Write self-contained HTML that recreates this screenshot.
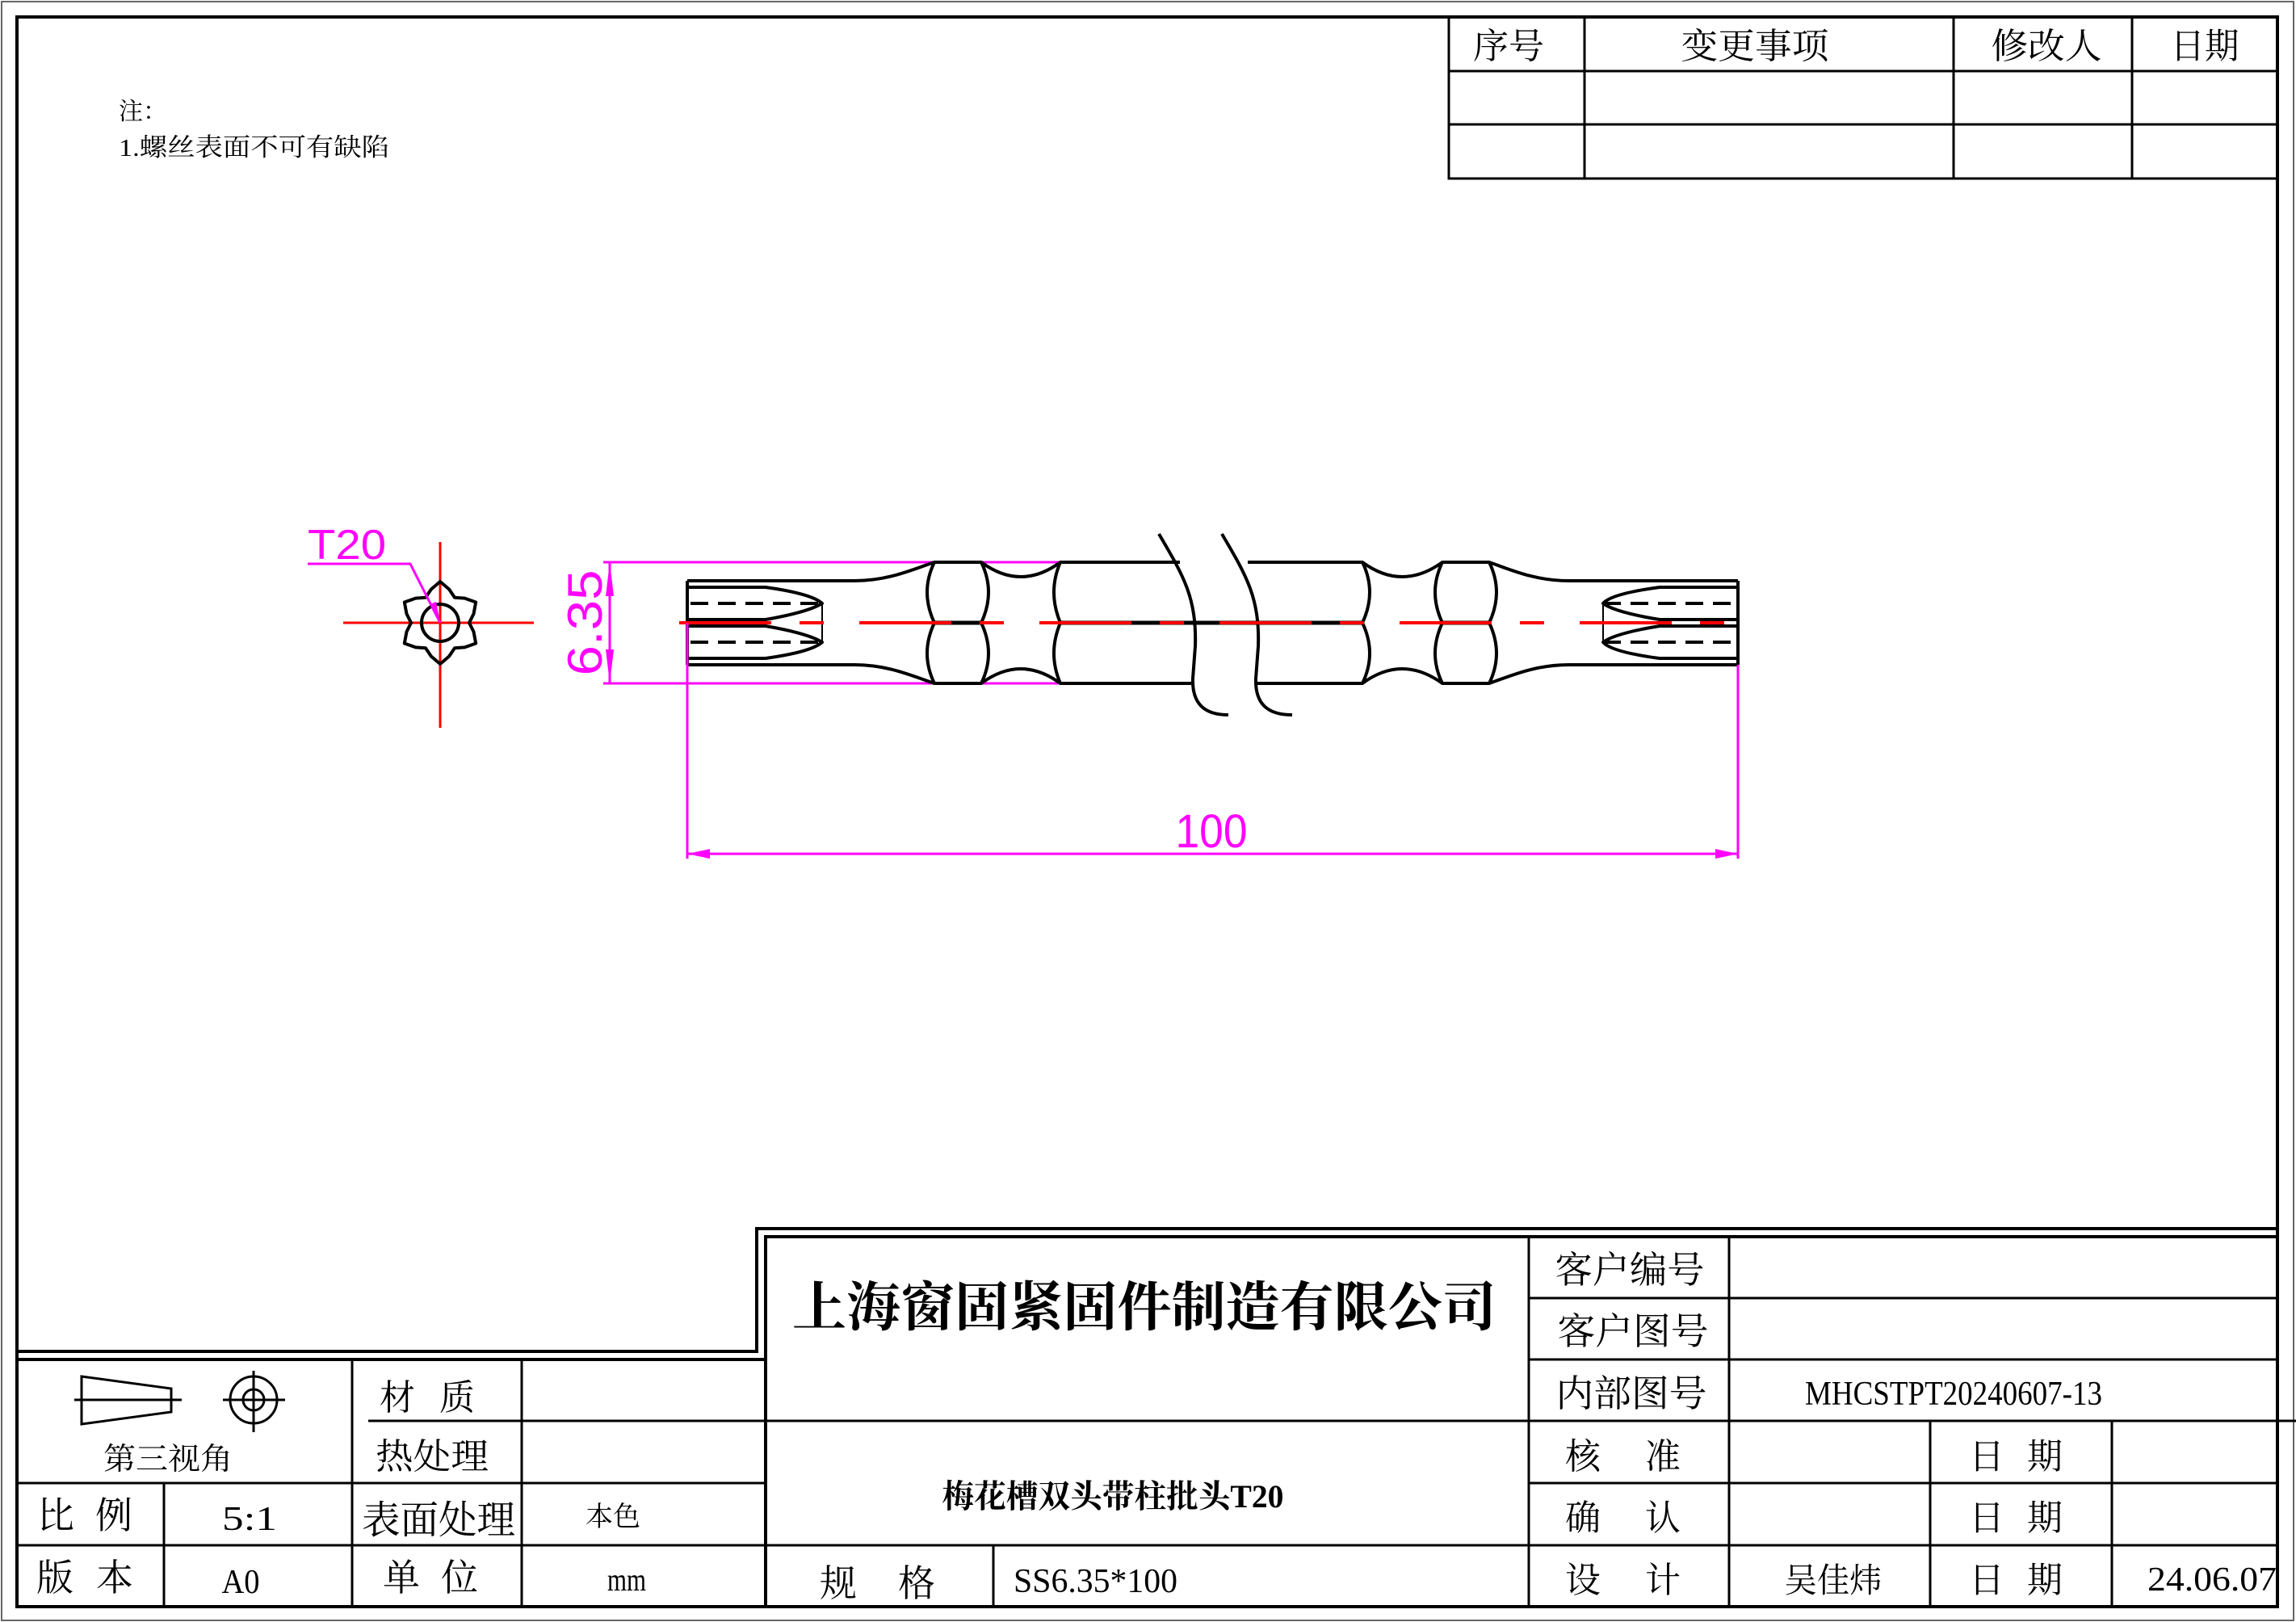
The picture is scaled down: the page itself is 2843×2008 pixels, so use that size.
<!DOCTYPE html>
<html><head><meta charset="utf-8">
<style>
html,body{margin:0;padding:0;background:#fff;}
svg{display:block;}
.cj{font-family:"Liberation Serif","Noto Serif CJK SC",serif;}
.ls{font-family:"Liberation Serif","Noto Serif CJK SC",serif;}
.mg{font-family:"Liberation Sans","DejaVu Sans",sans-serif;}
</style></head>
<body>
<svg width="2843" height="2008" viewBox="0 0 2843 2008" xmlns="http://www.w3.org/2000/svg">
<rect x="0" y="0" width="2843" height="2008" fill="#fff"/>
<!-- frames -->
<rect x="2" y="2" width="2838" height="2004" fill="none" stroke="#666" stroke-width="2"/>
<rect x="21" y="21" width="2799" height="1968" fill="none" stroke="#000" stroke-width="4"/>

<!-- notes -->
<text class="cj" x="147" y="148" font-size="30">注：</text>
<text class="cj" x="147" y="193" font-size="31" textLength="335" lengthAdjust="spacingAndGlyphs">1.螺丝表面不可有缺陷</text>

<!-- revision table -->
<g stroke="#000" stroke-width="3" fill="none">
<rect x="1794" y="21" width="1026" height="200"/>
<line x1="1794" y1="88" x2="2820" y2="88"/>
<line x1="1794" y1="154" x2="2820" y2="154"/>
<line x1="1962" y1="21" x2="1962" y2="221"/>
<line x1="2419" y1="21" x2="2419" y2="221"/>
<line x1="2640" y1="21" x2="2640" y2="221"/>
</g>
<g class="cj" font-size="44" text-anchor="middle">
<text x="1868" y="72" textLength="88" lengthAdjust="spacingAndGlyphs">序号</text>
<text x="2173" y="72" textLength="183" lengthAdjust="spacingAndGlyphs">变更事项</text>
<text x="2534" y="72" textLength="137" lengthAdjust="spacingAndGlyphs">修改人</text>
<text x="2730" y="72" textLength="85" lengthAdjust="spacingAndGlyphs">日期</text>
</g>

<!-- end view: star -->
<line x1="425" y1="771" x2="661" y2="771" stroke="#f00" stroke-width="3"/>
<line x1="545" y1="671" x2="545" y2="901" stroke="#f00" stroke-width="3"/>
<polygon points="545,720 556.1,729.5 563,739.8 575.4,740.6 589.2,745.5 586.5,759.9 581,771 586.5,782.1 589.2,796.5 575.4,801.4 563,802.2 556.1,812.5 545,822 533.9,812.5 527,802.2 514.6,801.4 500.8,796.5 503.5,782.1 509,771 503.5,759.9 500.8,745.5 514.6,740.6 527,739.8 533.9,729.5" fill="none" stroke="#000" stroke-width="4" stroke-linejoin="round"/>
<circle cx="545" cy="771" r="23" fill="none" stroke="#000" stroke-width="4"/>
<polyline points="381,698 508,698 545,771" fill="none" stroke="#f0f" stroke-width="3"/>
<polygon points="545,771 532,748 540,745" fill="#f0f"/>
<text class="mg" x="381" y="692" font-size="52" fill="#f0f" textLength="97" lengthAdjust="spacingAndGlyphs">T20</text>

<!-- dimension 6.35 -->
<g stroke="#f0f" stroke-width="3">
<line x1="747" y1="696" x2="1387" y2="696"/>
<line x1="747" y1="846" x2="1387" y2="846"/>
<line x1="755" y1="696" x2="755" y2="846"/>
</g>
<polygon points="755,696 750,738 760,738" fill="#f0f"/>
<polygon points="755,846 750,804 760,804" fill="#f0f"/>
<text class="mg" transform="translate(745,771) rotate(-90)" x="0" y="0" text-anchor="middle" font-size="60" fill="#f0f" textLength="131" lengthAdjust="spacingAndGlyphs">6.35</text>

<!-- centerline -->
<line x1="1313" y1="771" x2="1687" y2="771" stroke="#000" stroke-width="5"/>
<line x1="1157" y1="771" x2="1215" y2="771" stroke="#000" stroke-width="5"/>
<line x1="1786" y1="771" x2="1844" y2="771" stroke="#000" stroke-width="5"/>

<!-- body -->
<g fill="none" stroke="#000" stroke-width="4" stroke-linejoin="round">
<path d="M851,719 L1058,719 C1100,719 1130,705 1157,696 L1215,696 Q1264,732 1313,696 L1461,696"/>
<path d="M851,823 L1058,823 C1100,823 1130,837 1157,846 L1215,846 Q1264,810 1313,846 L1475,846"/>
<path d="M1545,696 L1687,696 Q1736,732 1786,696 L1844,696 C1870,705 1900,719 1943,719 L2152,719"/>
<path d="M1555,846 L1687,846 Q1736,810 1786,846 L1844,846 C1870,837 1900,823 1943,823 L2152,823"/>
<line x1="851" y1="719" x2="851" y2="823"/>
<line x1="2152" y1="719" x2="2152" y2="823"/>
<!-- left tip -->
<path d="M851,727 L948,727 Q1005,735 1018,747 Q1000,758 948,767 L851,767"/>
<path d="M851,815 L948,815 Q1005,807 1018,795 Q1000,784 948,775 L851,775"/>
<!-- right tip -->
<path d="M2152,727 L2055,727 Q1995,735 1985,747 Q2000,758 2055,767 L2152,767"/>
<path d="M2152,815 L2055,815 Q1995,807 1985,795 Q2000,784 2055,775 L2152,775"/>
<!-- vertical bulge curves -->
<path d="M1157,696 Q1139,733 1157,771 Q1139,809 1157,846"/>
<path d="M1215,696 Q1233,733 1215,771 Q1233,809 1215,846"/>
<path d="M1313,696 Q1297,733 1313,771 Q1297,809 1313,846"/>
<path d="M1687,696 Q1705,733 1687,771 Q1705,809 1687,846"/>
<path d="M1786,696 Q1768,733 1786,771 Q1768,809 1786,846"/>
<path d="M1844,696 Q1862,733 1844,771 Q1862,809 1844,846"/>
<!-- break lines -->
<path d="M1435,661 C1465,712 1482,740 1480,800 L1477,840 C1476,870 1490,885 1521,885"/>
<path d="M1513,661 C1543,712 1560,740 1558,800 L1555,840 C1554,870 1568,885 1600,885"/>
</g>
<g stroke="#000" stroke-width="2">
<line x1="1018" y1="747" x2="1018" y2="795"/>
<line x1="1985" y1="747" x2="1985" y2="795"/>
</g>
<g stroke="#000" stroke-width="4" stroke-dasharray="22 12">
<line x1="855" y1="747" x2="1018" y2="747"/>
<line x1="855" y1="795" x2="1018" y2="795"/>
<line x1="1985" y1="747" x2="2148" y2="747"/>
<line x1="1985" y1="795" x2="2148" y2="795"/>
</g>
<line x1="841" y1="771" x2="2163" y2="771" stroke="#f00" stroke-width="4" stroke-dasharray="114 35 30 44"/>

<!-- dimension 100 -->
<g stroke="#f0f" stroke-width="3">
<line x1="851" y1="771" x2="851" y2="1063"/>
<line x1="2152" y1="823" x2="2152" y2="1063"/>
<line x1="851" y1="1057" x2="2152" y2="1057"/>
</g>
<polygon points="851,1057 879,1051 879,1063" fill="#f0f"/>
<polygon points="2152,1057 2124,1051 2124,1063" fill="#f0f"/>
<text class="mg" x="1500" y="1049" text-anchor="middle" font-size="58" fill="#f0f" textLength="89" lengthAdjust="spacingAndGlyphs">100</text>

<!-- title block lines -->
<g stroke="#000" stroke-width="4" fill="none">
<polyline points="21,1673 937,1673 937,1521 2820,1521"/>
<polyline points="21,1683 948,1683 948,1531 2820,1531"/>
<line x1="948" y1="1531" x2="948" y2="1989"/>
</g>
<g stroke="#000" stroke-width="3">
<line x1="21" y1="1836" x2="948" y2="1836"/>
<line x1="21" y1="1913" x2="948" y2="1913"/>
<line x1="456" y1="1759" x2="948" y2="1759"/>
<line x1="436" y1="1683" x2="436" y2="1989"/>
<line x1="646" y1="1683" x2="646" y2="1989"/>
<line x1="203" y1="1836" x2="203" y2="1989"/>
<line x1="1893" y1="1531" x2="1893" y2="1989"/>
<line x1="948" y1="1759" x2="1893" y2="1759"/>
<line x1="948" y1="1913" x2="1893" y2="1913"/>
<line x1="1230" y1="1913" x2="1230" y2="1989"/>
<line x1="1893" y1="1607" x2="2820" y2="1607"/>
<line x1="1893" y1="1683" x2="2820" y2="1683"/>
<line x1="1893" y1="1759" x2="2843" y2="1759"/>
<line x1="1893" y1="1836" x2="2820" y2="1836"/>
<line x1="1893" y1="1913" x2="2820" y2="1913"/>
<line x1="2141" y1="1531" x2="2141" y2="1989"/>
<line x1="2390" y1="1759" x2="2390" y2="1989"/>
<line x1="2615" y1="1759" x2="2615" y2="1989"/>
</g>

<!-- projection symbol -->
<g stroke="#000" stroke-width="3" fill="none">
<polygon points="101,1704 212,1719 212,1748 101,1763"/>
<line x1="92" y1="1733" x2="225" y2="1733"/>
<circle cx="314" cy="1733" r="29"/>
<circle cx="314" cy="1733" r="13"/>
<line x1="276" y1="1733" x2="353" y2="1733"/>
<line x1="314" y1="1697" x2="314" y2="1773"/>
</g>

<!-- title texts -->
<g class="cj" fill="#000">
<text x="1417" y="1641" text-anchor="middle" font-size="66" font-weight="bold" textLength="872" lengthAdjust="spacingAndGlyphs">上海窗固紧固件制造有限公司</text>
<text x="1378" y="1866" text-anchor="middle" font-size="40" font-weight="bold" textLength="423" lengthAdjust="spacingAndGlyphs">梅花槽双头带柱批头T20</text>
<text x="1038" y="1976" text-anchor="middle" font-size="46">规</text>
<text x="1135" y="1976" text-anchor="middle" font-size="46">格</text>
<text x="1255" y="1971" font-size="42" textLength="203" lengthAdjust="spacingAndGlyphs">SS6.35*100</text>

<text x="2018" y="1588" text-anchor="middle" font-size="46" textLength="185" lengthAdjust="spacingAndGlyphs">客户编号</text>
<text x="2022" y="1664" text-anchor="middle" font-size="46" textLength="187" lengthAdjust="spacingAndGlyphs">客户图号</text>
<text x="2020" y="1741" text-anchor="middle" font-size="46" textLength="187" lengthAdjust="spacingAndGlyphs">内部图号</text>
<text x="2419" y="1739" text-anchor="middle" font-size="42" textLength="368" lengthAdjust="spacingAndGlyphs">MHCSTPT20240607-13</text>

<g font-size="44" text-anchor="middle">
<text x="1960" y="1818">核</text><text x="2059" y="1818">准</text>
<text x="1960" y="1894">确</text><text x="2059" y="1894">认</text>
<text x="1960" y="1971">设</text><text x="2059" y="1971">计</text>
<text x="2460" y="1818">日</text><text x="2532" y="1818">期</text>
<text x="2460" y="1894">日</text><text x="2532" y="1894">期</text>
<text x="2460" y="1971">日</text><text x="2532" y="1971">期</text>
</g>
<text x="2270" y="1971" text-anchor="middle" font-size="42" textLength="121" lengthAdjust="spacingAndGlyphs">吴佳炜</text>
<text x="2659" y="1969" font-size="42" textLength="160" lengthAdjust="spacingAndGlyphs">24.06.07</text>

<g font-size="44" text-anchor="middle">
<text x="492" y="1745">材</text><text x="566" y="1745">质</text>
</g>
<text x="535" y="1818" text-anchor="middle" font-size="44" textLength="140" lengthAdjust="spacingAndGlyphs">热处理</text>
<text x="208" y="1819" text-anchor="middle" font-size="38" textLength="160" lengthAdjust="spacingAndGlyphs">第三视角</text>
<g font-size="46" text-anchor="middle">
<text x="69" y="1892">比</text><text x="141" y="1892">例</text>
<text x="68" y="1969">版</text><text x="142" y="1969">本</text>
<text x="497" y="1969">单</text><text x="569" y="1969">位</text>
</g>
<text x="309" y="1894" text-anchor="middle" font-size="42" textLength="68" lengthAdjust="spacingAndGlyphs">5:1</text>
<text x="543" y="1898" text-anchor="middle" font-size="48" textLength="190" lengthAdjust="spacingAndGlyphs">表面处理</text>
<text x="759" y="1889" text-anchor="middle" font-size="34" textLength="68" lengthAdjust="spacingAndGlyphs">本色</text>
<text x="298" y="1972" text-anchor="middle" font-size="42" textLength="47" lengthAdjust="spacingAndGlyphs">A0</text>
<text x="776" y="1969" text-anchor="middle" font-size="40" textLength="48" lengthAdjust="spacingAndGlyphs">mm</text>
</g>
</svg>
</body></html>
